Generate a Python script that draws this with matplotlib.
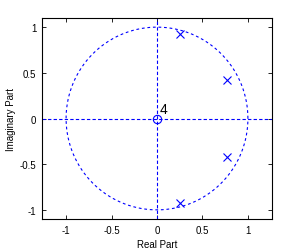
import numpy as np
import matplotlib
matplotlib.use("Agg")
import matplotlib.pyplot as plt

plt.rcParams.update({
    "font.family": ["Liberation Sans", "DejaVu Sans"],
    "font.size": 7,
    "xtick.direction": "in",
    "ytick.direction": "in",
    "xtick.top": True,
    "ytick.right": True,
})

# pole / zero data
pole_re = [0.25, 0.25, 0.77, 0.77]
pole_im = [0.93, -0.93, 0.42, -0.42]
zero_re = [0.0]
zero_im = [0.0]
zero_mult = ["4"]
xticks = [-1, -0.5, 0, 0.5, 1]
yticks = [-1, -0.5, 0, 0.5, 1]

blue = "#0000ff"

fig = plt.figure(figsize=(3.01, 2.51), dpi=100)
ax = fig.add_axes([42 / 301, 1 - 220 / 251, 230 / 301, 201 / 251])

theta = np.linspace(0, 2 * np.pi, 400)
ax.plot(np.cos(theta), np.sin(theta), color=blue, lw=0.8, ls=(0, (2.5, 2.5)))
ax.axhline(0, color=blue, lw=0.8, ls=(0, (3, 2)))
ax.axvline(0, color=blue, lw=0.8, ls=(0, (3, 2)))

ax.plot(pole_re, pole_im, ls="none", marker="x", ms=5.5, mew=0.8, color=blue)
ax.plot(zero_re, zero_im, ls="none", marker="o", ms=6, mew=0.8,
        mfc="none", mec=blue)
for xr, yi, m in zip(zero_re, zero_im, zero_mult):
    ax.text(xr + 0.025, yi + 0.03, m, fontsize=10, ha="left", va="bottom")

ax.set_xlim(-1.265, 1.265)
ax.set_ylim(-1.1, 1.1)
ax.set_xticks(xticks)
ax.set_yticks(yticks)
ax.set_xticklabels([f"{t:g}" for t in xticks])
ax.set_yticklabels([f"{t:g}" for t in yticks])
ax.tick_params(length=3, width=0.6, pad=4)
for s in ax.spines.values():
    s.set_linewidth(0.8)

ax.set_xlabel("Real Part", labelpad=3)
ax.set_ylabel("Imaginary Part", labelpad=3)

fig.savefig("out.png", dpi=100)
